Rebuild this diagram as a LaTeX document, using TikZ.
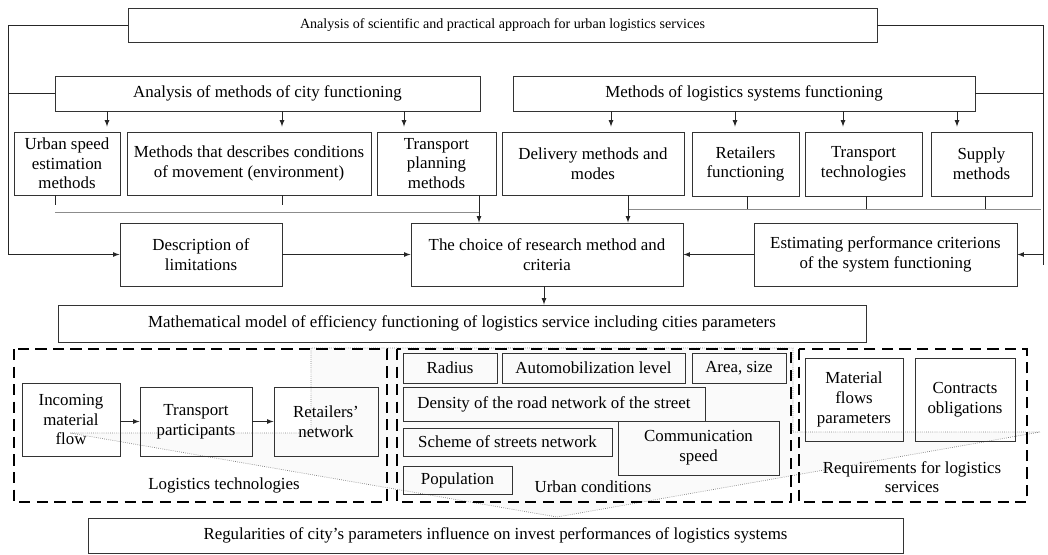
\documentclass[tikz,border=0pt]{standalone}
\usepackage{fontspec}
\setmainfont{LiberationSerif}[Extension=.ttf, UprightFont=*-Regular,
  BoldFont=*-Bold, ItalicFont=*-Italic, BoldItalicFont=*-BoldItalic]
\usetikzlibrary{arrows}

\tikzset{
  blk/.style={draw=black!80, line width=0.7pt, align=center, inner sep=1pt,
    font=\fontsize{12}{14}\selectfont},
  sz/.style 2 args={minimum width=#1*0.025cm, minimum height=#2*0.025cm},
  grp/.style={draw=black, line width=1.8pt, dash pattern=on 8pt off 4.5pt},
  arr/.style={-latex, black!85, line width=0.6pt},
  bus/.style={black!45, line width=0.7pt},
  lbl/.style={align=center, font=\fontsize{12}{14}\selectfont}
}

\begin{document}
\begin{tikzpicture}[x=0.025cm, y=-0.025cm]
  \useasboundingbox (0,0) rectangle (1048,554);

  % faint callout behind the lower groups
  \draw[gray, densely dotted, line width=0.5pt, fill=black!2]
    (70,433) -- (311,433) -- (311,348) -- (793,348) -- (793,432)
    -- (1040,432) -- (557,517) -- cycle;

  % dashed groups
  \draw[grp] (14,349) rectangle (387,502);
  \draw[grp] (397,349) rectangle (791,502);
  \draw[grp] (799,349) rectangle (1027,502);

  \node[blk, sz={749}{34}, font=\fontsize{10}{12}\selectfont] (scient) at (502.5,25)
    {Analysis of scientific and practical approach for urban logistics services};
  \node[blk, sz={425}{35}] (cityfn) at (267.5,93.5) {Analysis of methods of city functioning};
  \node[blk, sz={462}{35}] (logsys) at (744,93.5) {Methods of logistics systems functioning};

  \node[blk, sz={106}{63}] (urbspeed) at (67,163.5) {Urban speed\\estimation\\methods};
  \node[blk, sz={244}{63}] (movement) at (249,163.5) {Methods that describes conditions\\of movement (environment)};
  \node[blk, sz={119}{63}] (planning) at (436.5,163.5) {Transport\\planning\\methods};
  \node[blk, sz={182}{63}] (delivery) at (593,163.5) {Delivery methods and\\modes};
  \node[blk, sz={107}{64}] (retfn) at (745.5,164) {Retailers\\functioning};
  \node[blk, sz={117}{64}] (transtech) at (863.5,164) {Transport\\technologies};
  \node[blk, sz={101}{64}] (supply) at (981.5,164) {Supply\\methods};

  \node[blk, sz={162}{63}] (limits) at (201,254.5) {Description of\\limitations};
  \node[blk, sz={272}{63}] (choice) at (547,254.5) {The choice of research method and\\criteria};
  \node[blk, sz={263}{63}] (estim) at (885.5,254.5) {Estimating performance criterions\\of the system functioning};

  \node[blk, sz={808}{37}] (mathmod) at (462,323.5)
    {Mathematical model of efficiency functioning of logistics service including cities parameters};

  % logistics technologies
  \node[blk, sz={98}{73}] (incoming) at (71,419.5) {Incoming\\material\\flow};
  \node[blk, sz={112}{69}] (particip) at (196,421.5) {Transport\\participants};
  \node[blk, sz={104}{69}] (retnet) at (326,421.5) {Retailers'\\network};
  \node[lbl] (logtech) at (224,485) {Logistics technologies};

  % urban conditions
  \node[blk, sz={94}{30}] (radius) at (450,368) {Radius};
  \node[blk, sz={183}{30}] (automob) at (593.5,368) {Automobilization level};
  \node[blk, sz={94}{30}] (area) at (739,368) {Area, size};
  \node[blk, sz={302}{34}] (density) at (554,404) {Density of the road network of the street};
  \node[blk, sz={209}{28}] (scheme) at (507.5,442) {Scheme of streets network};
  \node[blk, sz={161}{54}] (commspeed) at (698.5,448) {Communication\\speed};
  \node[blk, sz={109}{28}] (populat) at (457.5,480) {Population};
  \node[lbl] (urbcond) at (593,487) {Urban conditions};

  % requirements
  \node[blk, sz={98}{83}] (matflow) at (854,399.5) {Material\\flows\\parameters};
  \node[blk, sz={100}{83}] (contract) at (965,399.5) {Contracts\\obligations};
  \node[lbl] (requir) at (912,477) {Requirements for logistics\\services};

  \node[blk, sz={815}{35}] (regul) at (495.5,535.5)
    {Regularities of city's parameters influence on invest performances of logistics systems};

  % side feedback lines
  \coordinate (lt) at (8,25);
  \coordinate (rt) at (1043,25);
  \coordinate (rb) at (1043,265);
  \draw[arr] (scient.west) -- (lt) |- (limits.west);
  \draw[black!85, line width=0.6pt] (cityfn.west) -- (cityfn.west -| lt);
  \draw[arr] (scient.east) -- (rt) |- (estim.east);
  \draw[black!85, line width=0.6pt] (rt) -- (rb);
  \draw[black!85, line width=0.6pt] (logsys.east) -- (logsys.east -| rt);

  % down arrows into the method boxes
  \foreach \x/\n in {107/urbspeed, 282/movement, 404/planning}
    \draw[arr, shorten >=3.5pt] (\x,0 |- cityfn.south) -- (\x,0 |- \n.north);
  \foreach \x/\n in {611/delivery, 735/retfn, 843/transtech, 957/supply}
    \draw[arr, shorten >=3.5pt] (\x,0 |- logsys.south) -- (\x,0 |- \n.north);

  % collecting lines
  \draw[bus] (55,212) -- (479,212);
  \draw[black!85, line width=0.5pt] (55,0 |- urbspeed.south) -- (55,205);
  \draw[black!85, line width=0.5pt] (282,0 |- movement.south) -- (282,205);
  \draw[arr] (479,0 |- planning.south) -- (479,0 |- choice.north);
  \draw[bus] (628,209) -- (1041,209);
  \foreach \x/\n in {747/retfn, 866/transtech, 985/supply}
    \draw[black!85, line width=0.5pt] (\x,0 |- \n.south) -- (\x,209);
  \draw[arr] (628,0 |- delivery.south) -- (628,0 |- choice.north);

  \draw[arr] (limits.east) -- (choice.west |- limits.east);
  \draw[arr] (estim.west) -- (choice.east |- estim.west);
  \draw[arr] (544,0 |- choice.south) -- (544,0 |- mathmod.north);

  \draw[arr] (incoming.east |- particip.west) -- (particip.west);
  \draw[arr] (particip.east) -- (retnet.west);

\end{tikzpicture}
\end{document}
